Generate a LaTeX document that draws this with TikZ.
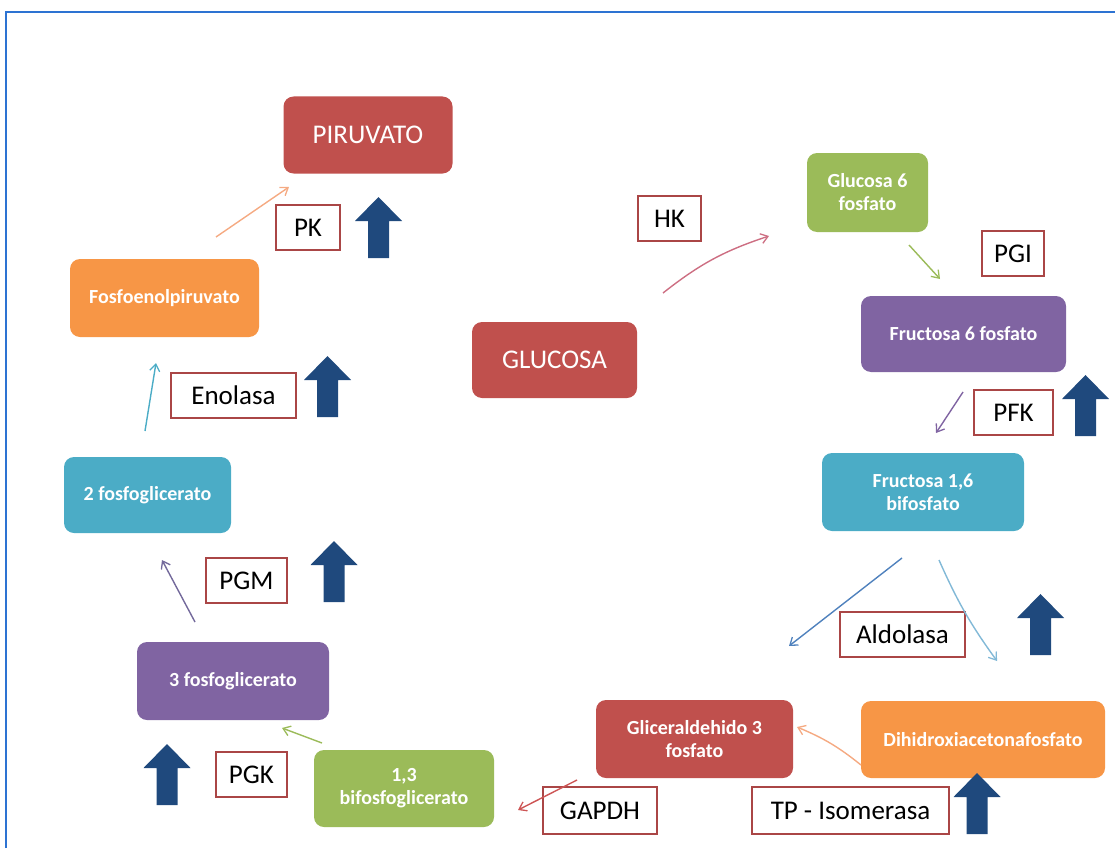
\documentclass[tikz,border=0pt]{standalone}
\usepackage{fontspec}
\setmainfont{Carlito}
\usetikzlibrary{arrows.meta}
\definecolor{cred}{RGB}{192,80,77}
\definecolor{corange}{RGB}{247,150,70}
\definecolor{cgreen}{RGB}{155,187,89}
\definecolor{cpurple}{RGB}{128,100,162}
\definecolor{cteal}{RGB}{75,172,198}
\definecolor{cframe}{RGB}{45,115,210}
\definecolor{cbig}{RGB}{31,73,125}
\definecolor{clabel}{RGB}{170,70,70}
\definecolor{csalmon}{RGB}{245,170,130}
\definecolor{cpink}{RGB}{205,110,130}
\definecolor{cblue}{RGB}{79,129,189}
\definecolor{clblue}{RGB}{130,185,215}
\definecolor{cgapdh}{RGB}{205,85,85}
\definecolor{cpgm}{RGB}{115,105,155}
\tikzset{
  mol/.style={rounded corners=10pt, draw=none, text=white, align=center,
    font=\fontsize{20}{23}\selectfont\bfseries, inner sep=0pt},
  bigmol/.style={mol, font=\fontsize{27}{30}\selectfont},
  enz/.style={draw=clabel, line width=1.3pt, fill=white, text=black,
    font=\fontsize{27}{30}\selectfont, inner sep=0pt},
  conn/.style={line width=1.4pt, -{Straight Barb[length=7pt,width=10pt,line width=1.3pt]}},
  pics/bigup/.style={code={
    \fill[cbig] (0,0) -- (23.5,24) -- (10.5,24) -- (10.5,61) -- (-10.5,61) -- (-10.5,24) -- (-23.5,24) -- cycle;}}
}
\begin{document}
\begin{tikzpicture}[x=1pt,y=-1pt]
\useasboundingbox (0,0) rectangle (1115,848);
% frame
\draw[cframe, line width=2pt] (6,848) -- (6,12) -- (1115,12);

% molecules
\node[bigmol, fill=cred, minimum width=169pt, minimum height=77pt] (piru) at (368,135) {PIRUVATO};
\node[bigmol, fill=cred, minimum width=165pt, minimum height=76pt] (gluc) at (554.5,360) {GLUCOSA};
\node[mol, fill=corange, minimum width=189pt, minimum height=78pt] (pep) at (164.5,298) {Fosfoenolpiruvato};
\node[mol, fill=cgreen, minimum width=121pt, minimum height=79pt] (g6p) at (867.5,192.5) {Glucosa 6\\fosfato};
\node[mol, fill=cpurple, minimum width=205pt, minimum height=76pt] (f6p) at (963.5,334) {Fructosa 6 fosfato};
\node[mol, fill=cteal, minimum width=202pt, minimum height=78pt] (f16) at (923,492) {Fructosa 1,6\\bifosfato};
\node[mol, fill=cteal, minimum width=167pt, minimum height=76pt] (pg2) at (147.5,495) {2 fosfoglicerato};
\node[mol, fill=cpurple, minimum width=192pt, minimum height=78pt] (pg3) at (233,681) {3 fosfoglicerato};
\node[mol, fill=cgreen, minimum width=180pt, minimum height=77pt] (bpg) at (404,788.5) {1,3\\bifosfoglicerato};
\node[mol, fill=cred, minimum width=197pt, minimum height=78pt] (gap) at (694.5,739) {Gliceraldehido 3\\fosfato};
\node[mol, fill=corange, minimum width=244pt, minimum height=77pt] (dhap) at (983,739.5) {Dihidroxiacetonafosfato};

% enzymes
\node[enz, minimum width=64pt, minimum height=45pt] (pk) at (308,227.5) {PK};
\node[enz, minimum width=63pt, minimum height=45pt] (hk) at (669.5,218.5) {HK};
\node[enz, minimum width=62pt, minimum height=45pt] (pgi) at (1013,253.5) {PGI};
\node[enz, minimum width=125pt, minimum height=45pt] (eno) at (233.5,395.5) {Enolasa};
\node[enz, minimum width=79pt, minimum height=45pt] (pfk) at (1013.5,412.5) {PFK};
\node[enz, minimum width=81pt, minimum height=45pt] (pgm) at (246.5,580.5) {PGM};
\node[enz, minimum width=125pt, minimum height=45pt] (ald) at (902.5,634.5) {Aldolasa};
\node[enz, minimum width=71pt, minimum height=45pt] (pgk) at (251.5,774.5) {PGK};
\node[enz, minimum width=114pt, minimum height=47pt] (gapdh) at (600,810.5) {GAPDH};
\node[enz, minimum width=197pt, minimum height=47pt] (tpi) at (850.5,810.5) {TP - Isomerasa};

% big up arrows
\pic at (378.5,197) {bigup};
\pic at (327.5,356) {bigup};
\pic at (1085.5,375) {bigup};
\pic at (334,541) {bigup};
\pic at (167,744) {bigup};
\pic at (1040.5,594) {bigup};
\pic at (977,773) {bigup};

% connector end points
\coordinate (pkA) at (216,237);   \coordinate (pkB) at (289,187);
\coordinate (hkA) at (663,293);   \coordinate (hkB) at (769,236);
\coordinate (pgiA) at (909,245);  \coordinate (pgiB) at (940,279);
\coordinate (pfkA) at (963,392);  \coordinate (pfkB) at (936,433);
\coordinate (alA) at (902,558);   \coordinate (alB) at (789,646);
\coordinate (arA) at (939,560);   \coordinate (arB) at (997,661);
\coordinate (tpA) at (861,765);   \coordinate (tpB) at (797,727);
\coordinate (gdA) at (577,780);   \coordinate (gdB) at (518,810);
\coordinate (pgkA) at (322,743);  \coordinate (pgkB) at (282,728);
\coordinate (pgmA) at (195,622);  \coordinate (pgmB) at (162,560);
\coordinate (enA) at (145,431);   \coordinate (enB) at (156,363);

\draw[conn, csalmon] (pkA) -- (pkB);
\draw[conn, cpink] (hkA) to[bend left=10] (hkB);
\draw[conn, cgreen] (pgiA) -- (pgiB);
\draw[conn, cpurple] (pfkA) -- (pfkB);
\draw[conn, cblue] (alA) -- (alB);
\draw[conn, clblue] (arA) to[bend right=6] (arB);
\draw[conn, csalmon] (tpA) to[bend right=8] (tpB);
\draw[conn, cgapdh] (gdA) -- (gdB);
\draw[conn, cgreen] (pgkA) -- (pgkB);
\draw[conn, cpgm] (pgmA) -- (pgmB);
\draw[conn, cteal] (enA) -- (enB);
\end{tikzpicture}
\end{document}
